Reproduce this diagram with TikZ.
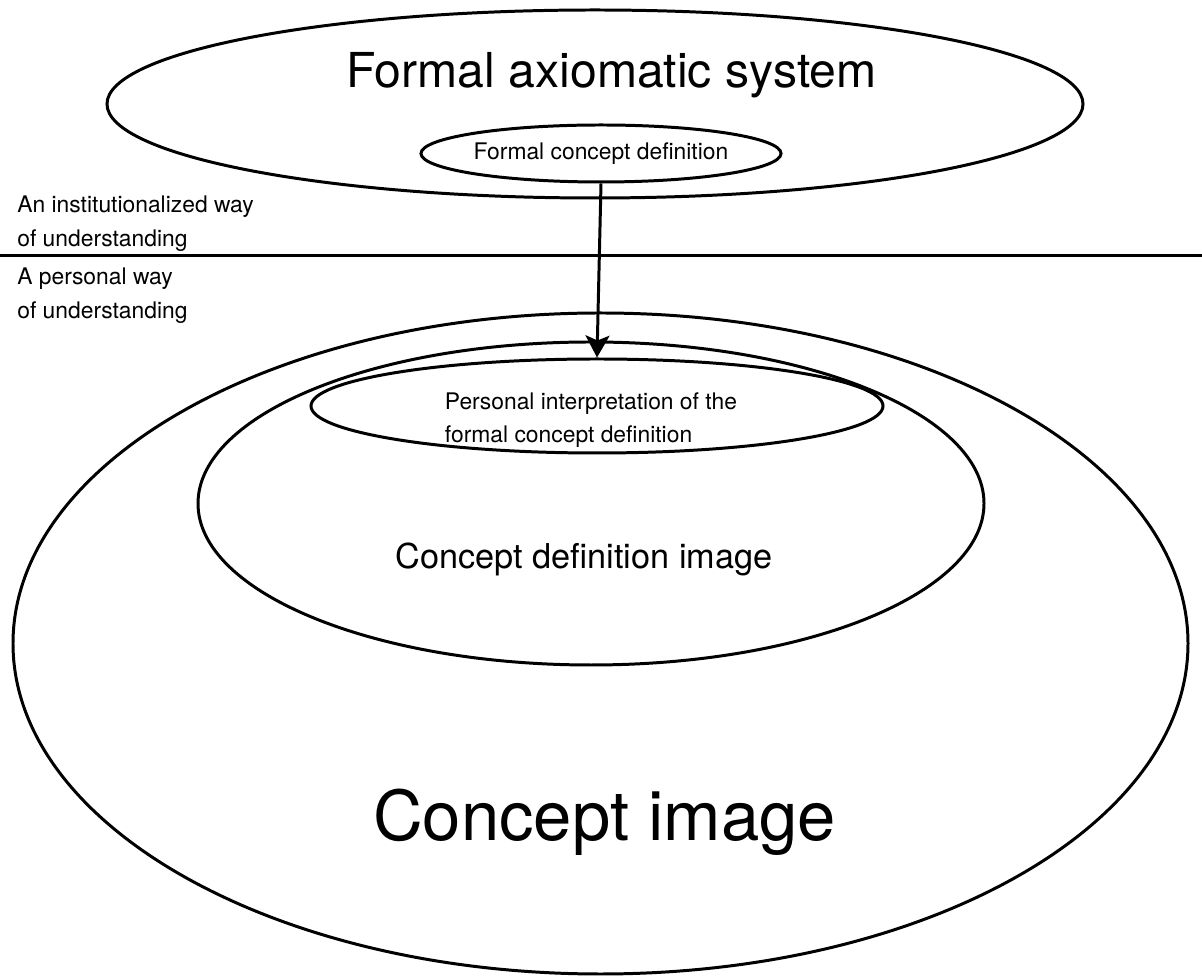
\documentclass[tikz,border=0pt]{standalone}
\usepackage{fontspec}
\setmainfont{TeX Gyre Heros}
\usetikzlibrary{shapes.geometric}
\usetikzlibrary{arrows.meta}

\begin{document}
\begin{tikzpicture}[
  oval/.style={ellipse,draw=black,line width=1.7pt,inner sep=0pt},
  side/.style={font=\fontsize{13}{19.5}\selectfont,anchor=base west,align=left,inner sep=0pt}
]
\useasboundingbox (0,0) rectangle (24.04,19.54);
\node[oval,minimum width=19.52cm,minimum height=3.76cm] (FAS) at (11.90,17.46) {};
\node[oval,minimum width=7.16cm,minimum height=1.14cm,font=\fontsize{13}{16}\selectfont] (FCD) at (12.02,16.47) {Formal concept definition};
\node[oval,minimum width=23.50cm,minimum height=13.22cm] (CI) at (12.01,6.67) {};
\node[oval,minimum width=15.72cm,minimum height=6.46cm] (CDI) at (11.82,9.47) {};
\node[oval,minimum width=11.44cm,minimum height=1.88cm] (PI) at (11.94,11.42) {};

\node[font=\fontsize{27.4}{33}\selectfont,anchor=base] (FAStext) at (12.23,17.78) {Formal axiomatic system};
\node[font=\fontsize{13}{19}\selectfont,align=left] (PItext) at (11.82,11.14) {Personal interpretation of the\\formal concept definition};
\node[font=\fontsize{19.5}{23}\selectfont,anchor=base] (CDItext) at (11.68,8.16) {Concept definition image};
\node[font=\fontsize{39.2}{47}\selectfont,anchor=base] (CItext) at (12.09,2.72) {Concept image};

\node[side] (inst) at (0.34,14.60) {An institutionalized way\\of understanding};
\node[side] (pers) at (0.34,13.16) {A personal way\\of understanding};

\coordinate (L) at (0,14.42);
\coordinate (R) at (24.04,14.42);
\draw[line width=1.7pt] (L) -- (R);

\draw[line width=1.7pt,-{Stealth[length=4.4mm,width=4.8mm,inset=1mm]}] (FCD.south) -- (PI.north);
\end{tikzpicture}
\end{document}
